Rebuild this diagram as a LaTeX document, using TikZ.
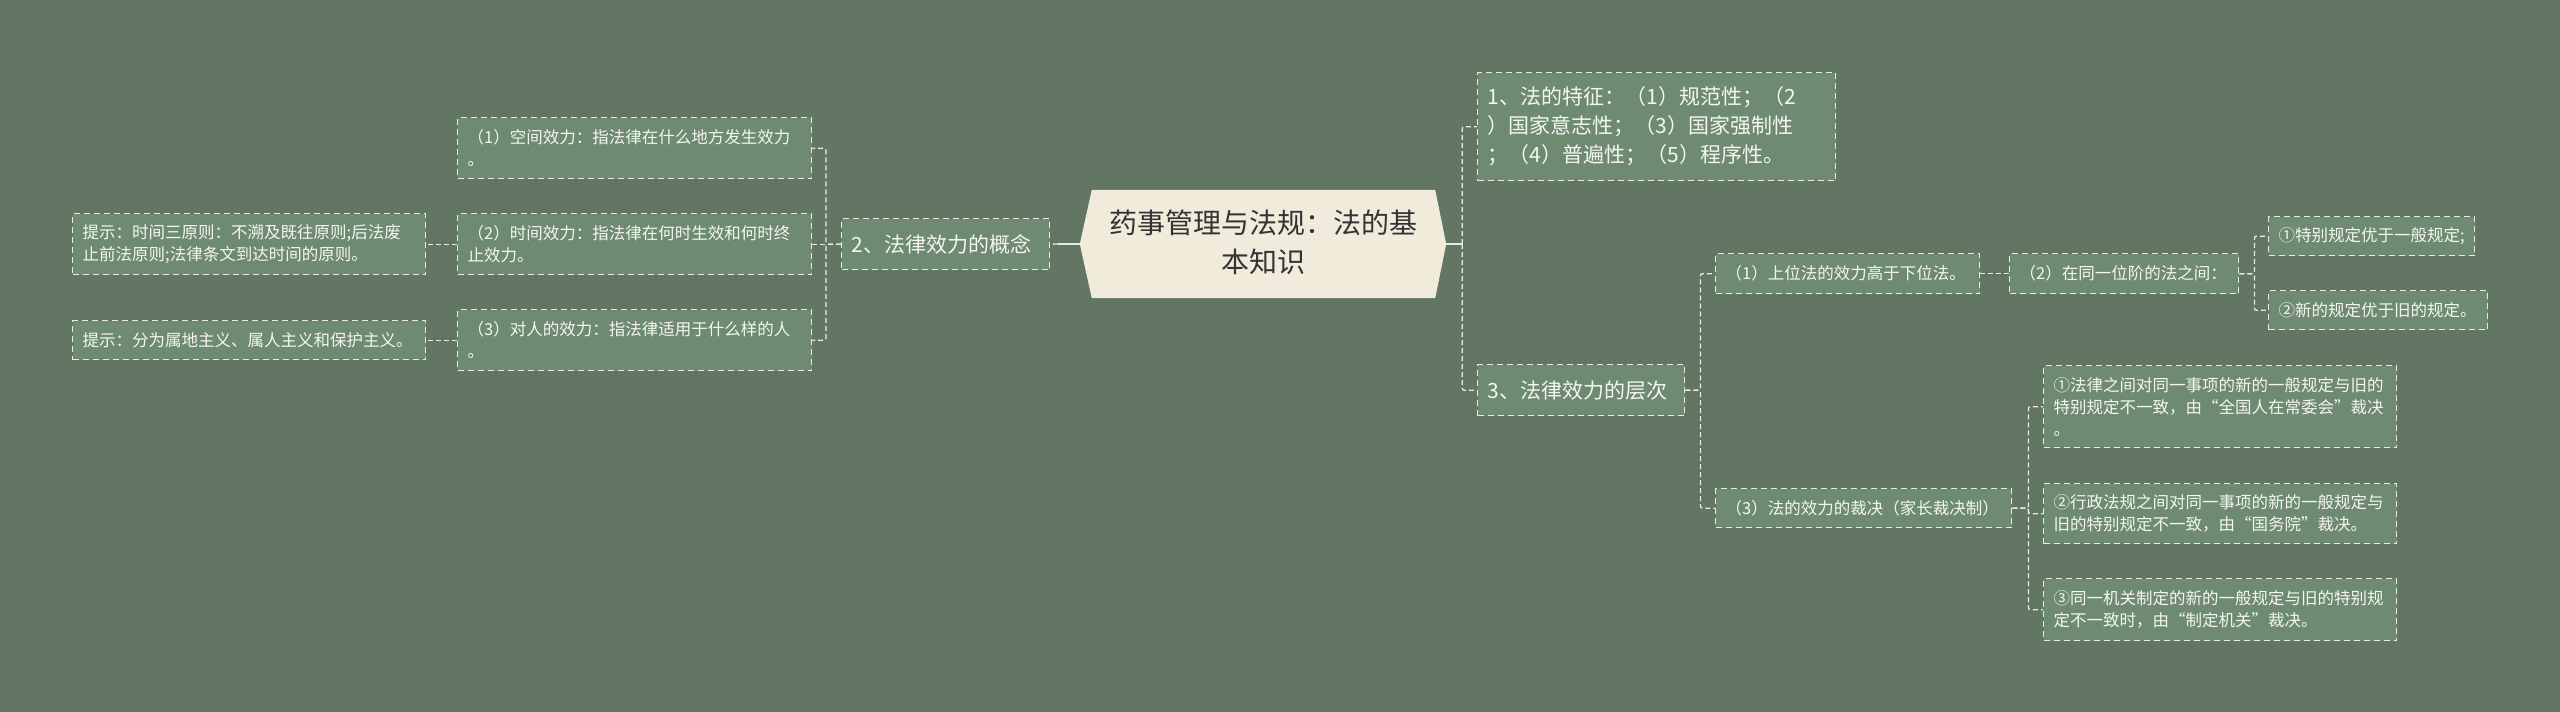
\documentclass[tikz,border=0pt]{standalone}
\usepackage{fontspec}
\setmainfont{Noto Sans CJK SC}
\usetikzlibrary{calc}
\definecolor{bg}{HTML}{637563}
\definecolor{boxfill}{HTML}{6E8A70}
\definecolor{rootfill}{HTML}{F0EBDB}
\definecolor{linecol}{HTML}{E6ECE4}
\definecolor{txt}{HTML}{F4F6F2}
\definecolor{roottxt}{HTML}{333333}
\tikzset{
  box/.style={draw=linecol, line width=1.4pt, dash pattern=on 6pt off 4pt,
    fill=boxfill, text=txt, align=left, inner xsep=10pt, inner ysep=0pt,
    anchor=north west},
  lvone/.style={box, font=\fontsize{21}{29}\selectfont},
  lvtwo/.style={box, font=\fontsize{16.5}{22}\selectfont},
  conn/.style={draw=linecol, line width=1.3pt, dash pattern=on 5pt off 3pt, rounded corners=2pt},
  solidconn/.style={draw=linecol, line width=2pt},
}
\newcommand\bx[7]{\node[#1, minimum width=#4pt, minimum height=#5pt, text width=#6pt] (#2) at #3 {#7};}
\begin{document}
\begin{tikzpicture}[x=1pt,y=-1pt]
\useasboundingbox (0,0) rectangle (2560,712);
\fill[bg] (0,0) rectangle (2560,712);

% root
\node[minimum width=366pt, minimum height=108pt, inner sep=0pt] (root) at (1263,244) {};
\fill[rootfill] (root.west) -- ($(root.north west)+(12,0)$) -- ($(root.north east)+(-11,0)$)
  -- (root.east) -- ($(root.south east)+(-11,0)$) -- ($(root.south west)+(12,0)$) -- cycle;
\node[text=roottxt, align=center, font=\fontsize{28}{39}\selectfont, inner sep=0pt] (roottext) at (1263,242)
  {药事管理与法规：法的基\\本知识};

% left branch
\bx{lvone}{L1}{(841,218)}{208}{51}{188}{2、法律效力的概念}
\bx{lvtwo}{B1}{(457,117)}{354}{61}{334}{（1）空间效力：指法律在什么地方发生效力\\。}
\bx{lvtwo}{B2}{(457,213)}{354}{61}{334}{（2）时间效力：指法律在何时生效和何时终\\止效力。}
\bx{lvtwo}{B3}{(457,309)}{354}{61}{334}{（3）对人的效力：指法律适用于什么样的人\\。}
\bx{lvtwo}{T2}{(72,213)}{353}{61}{333}{提示：时间三原则：不溯及既往原则;后法废\\止前法原则;法律条文到达时间的原则。}
\bx{lvtwo}{T3}{(72,320)}{353}{39}{333}{提示：分为属地主义、属人主义和保护主义。}

% right branch
\bx{lvone}{R1}{(1477,72)}{358}{108}{338}{1、法的特征：（1）规范性；（2\\）国家意志性；（3）国家强制性\\；（4）普遍性；（5）程序性。}
\bx{lvone}{R3}{(1477,364)}{207}{51}{187}{3、法律效力的层次}
\bx{lvtwo}{A1}{(1715,253)}{264}{40}{244}{（1）上位法的效力高于下位法。}
\bx{lvtwo}{A2}{(2009,253)}{229}{40}{209}{（2）在同一位阶的法之间：}
\bx{lvtwo}{A21}{(2268,216)}{206}{39}{186}{①特别规定优于一般规定;}
\bx{lvtwo}{A22}{(2268,290)}{219}{39}{199}{②新的规定优于旧的规定。}
\bx{lvtwo}{A3}{(1715,488)}{296}{39}{276}{（3）法的效力的裁决（家长裁决制）}
\bx{lvtwo}{A31}{(2043,365)}{353}{82}{333}{①法律之间对同一事项的新的一般规定与旧的\\特别规定不一致，由“全国人在常委会”裁决\\。}
\bx{lvtwo}{A32}{(2043,483)}{353}{60}{333}{②行政法规之间对同一事项的新的一般规定与\\旧的特别规定不一致，由“国务院”裁决。}
\bx{lvtwo}{A33}{(2043,578)}{353}{62}{333}{③同一机关制定的新的一般规定与旧的特别规\\定不一致时，由“制定机关”裁决。}

% connectors
\draw[solidconn] (root.west) -- ++(-22,0) coordinate (lhub);
\draw[conn] (lhub) -- (L1.east);
\draw[conn] (L1.west) -- ++(-15,0) |- (B1.east);
\draw[conn] (L1.west) -- (B2.east);
\draw[conn] (L1.west) -- ++(-15,0) |- (B3.east);
\draw[conn] (B2.west) -- (T2.east);
\draw[conn] (B3.west) -- (T3.east);

\draw[solidconn] (root.east) -- ++(16,0) coordinate (rhub);
\draw[conn] (rhub) |- (R1.west);
\draw[conn] (rhub) |- (R3.west);
\draw[conn] (R3.east) -- ++(15,0) |- (A1.west);
\draw[conn] (R3.east) -- ++(15,0) |- (A3.west);
\draw[conn] (A1.east) -- (A2.west);
\draw[conn] (A2.east) -- ++(15,0) |- (A21.west);
\draw[conn] (A2.east) -- ++(15,0) |- (A22.west);
\draw[conn] (A3.east) -- ++(16,0) |- (A31.west);
\draw[conn] (A3.east) -- ++(16,0) |- (A32.west);
\draw[conn] (A3.east) -- ++(16,0) |- (A33.west);
\end{tikzpicture}
\end{document}
